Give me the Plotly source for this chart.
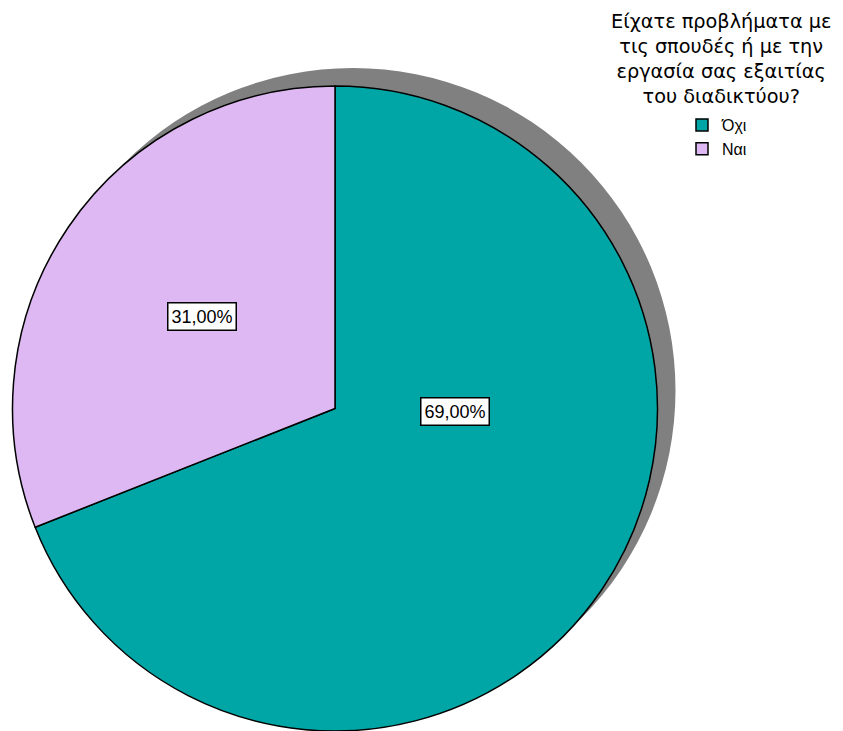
import plotly.graph_objects as go

# ---- data ----
labels = ["Όχι", "Ναι"]
values = [69.0, 31.0]
colors = ["#00A6A6", "#DDB8F2"]
legend_title = "Είχατε προβλήματα με<br>τις σπουδές ή με την<br>εργασία σας εξαιτίας<br>του διαδικτύου?"

# page has an 8px body margin; figure is sized so the page fits the window
OFF = 8
W, H = 843 - OFF, 731 - OFF
FONT = "Liberation Sans, Arial, sans-serif"
TITLE_FONT = "DejaVu Sans, sans-serif"

# pie geometry in page pixels
cx, cy, R = 335, 408.5, 322.5
shadow_dx, shadow_dy = 18, -18


def px_x(x):
    return (x - OFF) / W


def px_y(y):
    return 1 - (y - OFF) / H


fig = go.Figure()
fig.add_trace(go.Pie(
    labels=labels,
    values=values,
    sort=False,
    direction="clockwise",
    rotation=0,
    marker=dict(colors=colors, line=dict(color="black", width=1.5)),
    textinfo="none",
    hoverinfo="label+percent",
    domain=dict(x=[px_x(cx - R), px_x(cx + R)],
                y=[max(0, px_y(cy + R)), px_y(cy - R)]),
    showlegend=True,
))

# shadow circle behind pie
fig.add_shape(
    type="circle", xref="paper", yref="paper", layer="below",
    x0=px_x(cx - R + shadow_dx), x1=px_x(cx + R + shadow_dx),
    y0=px_y(cy + R + shadow_dy), y1=px_y(cy - R + shadow_dy),
    fillcolor="#808080", line=dict(width=0),
)

# boxed percentage labels (page pixel anchors)
label_px = [(455, 411), (202, 316)]
for v, (lx, ly) in zip(values, label_px):
    fig.add_annotation(
        x=px_x(lx), y=px_y(ly), xref="paper", yref="paper",
        text=f"{v:.2f}".replace(".", ",") + "%",
        showarrow=False, xanchor="center", yanchor="middle",
        font=dict(family=FONT, size=18, color="black"),
        bgcolor="white", bordercolor="black", borderwidth=1.5, borderpad=3,
    )

# legend title
fig.add_annotation(
    x=px_x(721), y=px_y(8), xref="paper", yref="paper",
    text=legend_title, showarrow=False, xanchor="center", yanchor="top",
    align="center", font=dict(family=TITLE_FONT, size=19.3, color="black"),
)

fig.update_layout(
    width=W, height=H,
    margin=dict(l=0, r=0, t=0, b=0),
    paper_bgcolor="white", plot_bgcolor="white",
    font=dict(family=FONT, color="black"),
    legend=dict(
        x=px_x(682), y=px_y(108), xanchor="left", yanchor="top",
        font=dict(family=FONT, size=16, color="black"),
        bgcolor="rgba(0,0,0,0)", borderwidth=0,
        itemwidth=30, tracegroupgap=0,
    ),
)

fig.write_html("out.html")
